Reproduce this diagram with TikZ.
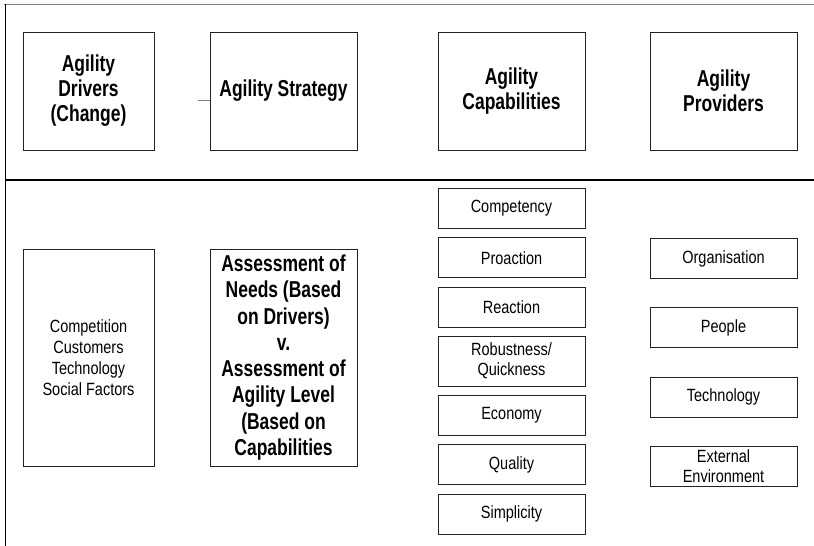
\documentclass[tikz,border=0pt]{standalone}
\usepackage{fontspec}
\setmainfont{Liberation Sans}[FakeStretch=0.82]
\newfontfamily\headfont{Liberation Sans}[FakeStretch=0.76]
\definecolor{framegray}{RGB}{125,125,125}
\definecolor{boxline}{RGB}{35,35,35}

\begin{document}
\begin{tikzpicture}[x=1pt, y=-1pt,
    headbox/.style={draw=boxline, line width=0.8pt, minimum width=147pt, minimum height=118pt,
        align=center, inner sep=0pt, font=\headfont\fontsize{23}{25}\selectfont\bfseries},
    listbox/.style={draw=boxline, line width=0.8pt, minimum width=147pt, minimum height=40pt,
        align=center, inner sep=0pt, font=\fontsize{17.7}{20.5}\selectfont}]
    \useasboundingbox (0,0) rectangle (814,546);

    % Frame lines
    \draw[framegray, line width=1pt] (4,4) -- (814,4);
    \draw[black, line width=0.8pt] (5,4) -- (5,546);
    \draw[black, line width=2pt] (6,179.5) -- (814,179.5);

    % Heading boxes
    \node[headbox, minimum width=131pt] (drivers) at (88.5,91) {Agility\\Drivers\\(Change)};
    \node[headbox] (strategy) at (283.5,91) {Agility Strategy};
    \node[headbox] (capab) at (511.5,91) {Agility\\Capabilities};
    \node[headbox] (provid) at (723.5,91) {Agility\\Providers};

    % Stub in front of strategy box
    \coordinate (stub) at (198,100);
    \draw[framegray, line width=0.8pt] (stub) -- (strategy.west |- stub);

    % Drivers and assessment
    \node[listbox, minimum width=131pt, minimum height=217pt, font=\fontsize{17.7}{21}\selectfont]
        (factors) at (88.5,357.5) {Competition\\Customers\\Technology\\Social Factors};
    \node[headbox, minimum height=217pt, font=\headfont\fontsize{23}{26.3}\selectfont\bfseries]
        (assess) at (283.5,357.5) {Assessment of\\Needs (Based\\on Drivers)\\v.\\Assessment of\\Agility Level\\(Based on\\Capabilities};

    % Capabilities list
    \foreach \y/\name/\txt in {208.5/compet/Competency, 257.8/proact/Proaction, 307/react/Reaction,
        415/econ/Economy, 464.5/qual/Quality, 514/simpl/Simplicity} {
        \node[listbox] (\name) at (511.5,\y) {\txt};
    }
    \node[listbox, minimum height=50pt] (robust) at (511.5,361) {Robustness/\\Quickness};

    % Providers list
    \foreach \y/\name/\txt in {258.5/organ/Organisation, 327.5/people/People, 397/techn/Technology} {
        \node[listbox] (\name) at (723.5,\y) {\txt};
    }
    \node[listbox] (extenv) at (723.5,466) {External\\Environment};
\end{tikzpicture}
\end{document}
